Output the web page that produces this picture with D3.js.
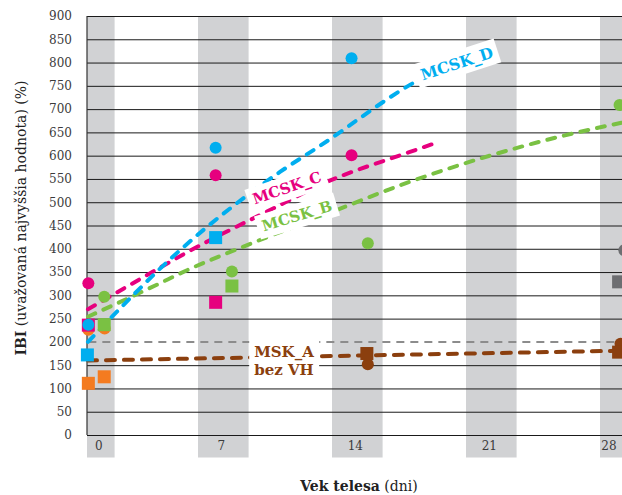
<!DOCTYPE html>
<html>
<head>
<meta charset="utf-8">
<script src="https://cdn.jsdelivr.net/npm/d3@7"></script>
<style>
  html, body { margin: 0; padding: 0; background: #fff; overflow: hidden; }
  svg { display: block; font-family: "DejaVu Serif", serif; }
</style>
</head>
<body>
<svg id="chart" width="622" height="495"></svg>
<script>
// --- data -------------------------------------------------------------
const dniTicks = [0, 7, 14, 21, 28];
const ibiTicks = d3.range(0, 901, 50);
const hranica = 200;

// MCSK_D (modrá)
const mcskDKruhDni = [-0.05, 6.6, 13.7];
const mcskDKruhIbi = [237, 617, 809];
const mcskDStvorecDni = [-0.1, 6.6];
const mcskDStvorecIbi = [172, 424];
const mcskDTrendDni = [-0.07, 4.74, 9.96, 12.05, 16.75, 17.3];
const mcskDTrendIbi = [200, 397, 565, 621, 752, 765];

// MCSK_C (purpurová)
const mcskCKruhDni = [-0.05, 6.6, 13.7];
const mcskCKruhIbi = [326, 558, 601];
const mcskCStvorecDni = [-0.05, 6.6];
const mcskCStvorecIbi = [236, 285];
const mcskCTrendDni = [-0.07, 3.33, 4.74, 9.96, 12.05, 16.75, 18.22];
const mcskCTrendIbi = [270, 351, 384, 494, 537, 608, 629];

// MCSK_B (zelená)
const mcskBKruhDni = [0.78, 7.45, 14.55, 27.7];
const mcskBKruhIbi = [297, 351, 412, 709];
const mcskBStvorecDni = [0.78, 7.45];
const mcskBStvorecIbi = [237, 320];
const mcskBTrendDni = [-0.07, 3.69, 4.74, 8.5, 12.05, 16.75, 24.59, 27.83];
const mcskBTrendIbi = [254, 326, 347, 412, 469, 544, 641, 671];

// oranžová
const oranzKruhDni = [-0.05, 0.8];
const oranzKruhIbi = [226, 229];
const oranzStvorecDni = [-0.05, 0.78];
const oranzStvorecIbi = [111, 125];

// MSK_A bez VH (hnedá)
const mskAKruhDni = [14.55, 27.75];
const mskAKruhIbi = [152, 196];
const mskAStvorecDni = [14.5, 27.65];
const mskAStvorecIbi = [175, 178];
const mskATrendDni = [-0.07, 27.83];
const mskATrendIbi = [160, 181];

// sivá
const sivaKruhDni = [27.95];
const sivaKruhIbi = [397];
const sivaStvorecDni = [27.65];
const sivaStvorecIbi = [329];

// --- layout -----------------------------------------------------------
const plotLeft = 87, plotRight = 622, plotTop = 16, plotBottom = 435;
const bandHalf = 25.3, bandBottom = 457.5;

const x = d3.scaleLinear().domain([0, 28]).range([89.3, 625.3]);
const y = d3.scaleLinear().domain([0, 900]).range([plotBottom, plotTop]);

const col = {
  D: "#00aeef", C: "#e6007e", B: "#7ac143",
  O: "#f47b20", A: "#8b3f0e", S: "#6d6e71"
};

const svg = d3.select("#chart");
const zip = (a, b) => a.map((v, i) => [v, b[i]]);

// vertical grey bands around each measured day
const bands = dniTicks.map(d => {
  const x0 = Math.max(plotLeft, x(d) - bandHalf);
  const x1 = Math.min(plotRight, x(d) + bandHalf);
  return { d, x0, x1 };
});
svg.append("g").selectAll("rect").data(bands).join("rect")
  .attr("x", b => b.x0).attr("y", plotTop)
  .attr("width", b => b.x1 - b.x0).attr("height", bandBottom - plotTop)
  .attr("fill", "#d1d2d4");

// y axis with full-width grid lines (the 200 % level gets its own dashed line)
const yAxis = svg.append("g")
  .attr("transform", `translate(${plotLeft},0)`)
  .call(d3.axisLeft(y).tickValues(ibiTicks).tickSize(-(plotRight - plotLeft)).tickPadding(15));
yAxis.select(".domain").remove();
yAxis.selectAll(".tick line")
  .attr("stroke", "#1a1a1a").attr("stroke-width", 1)
  .attr("display", d => d === hranica ? "none" : null);
yAxis.selectAll(".tick text")
  .attr("font-family", "DejaVu Serif").attr("font-size", 12).attr("fill", "#3b3b3b");

svg.append("line")
  .attr("x1", plotLeft).attr("x2", plotLeft).attr("y1", plotTop).attr("y2", plotBottom)
  .attr("stroke", "#333").attr("stroke-width", 1.2);

// x labels centred in the visible part of each band
svg.append("g").selectAll("text").data(bands).join("text")
  .attr("x", b => (b.x0 + b.x1) / 2 - 2).attr("y", 450)
  .attr("text-anchor", "middle").attr("font-size", 12).attr("fill", "#3b3b3b")
  .text(b => b.d);

// threshold line at 200 %
svg.append("line")
  .attr("x1", x(-0.05)).attr("x2", plotRight)
  .attr("y1", y(hranica)).attr("y2", y(hranica))
  .attr("stroke", "#8c8c8c").attr("stroke-width", 2).attr("stroke-dasharray", "8,6");

// trend lines
const line = d3.line().x(d => x(d[0])).y(d => y(d[1])).curve(d3.curveMonotoneX);
const trends = [
  { pts: zip(mskATrendDni, mskATrendIbi), c: col.A, dash: "9,9" },
  { pts: zip(mcskBTrendDni, mcskBTrendIbi), c: col.B, dash: "8,9" },
  { pts: zip(mcskCTrendDni, mcskCTrendIbi), c: col.C, dash: "8,9" },
  { pts: zip(mcskDTrendDni, mcskDTrendIbi), c: col.D, dash: "8,9" }
];
svg.append("g").selectAll("path").data(trends).join("path")
  .attr("d", t => line(t.pts))
  .attr("fill", "none").attr("stroke", t => t.c).attr("stroke-width", 4)
  .attr("stroke-linecap", "round").attr("stroke-dasharray", t => t.dash);

// series labels on white boxes
function label(lines, cx, cy, angle, color, size) {
  const g = svg.append("g").attr("transform", `translate(${cx},${cy}) rotate(${angle})`);
  const t = g.append("text")
    .attr("text-anchor", "middle").attr("font-weight", "bold")
    .attr("font-size", size).attr("fill", color);
  lines.forEach((s, i) => {
    t.append("tspan").attr("x", 0).attr("y", (i - (lines.length - 1) / 2) * 18 + 5).text(s);
  });
  const bb = t.node().getBBox();
  g.insert("rect", "text")
    .attr("x", bb.x - 5).attr("y", bb.y - 3)
    .attr("width", bb.width + 10).attr("height", bb.height + 6)
    .attr("fill", "#fff");
}
label(["MCSK_D"], 457, 64, -18, col.D, 15.5);
label(["MCSK_C"], 287, 188, -19, col.C, 15);
label(["MCSK_B"], 297, 216, -17, col.B, 15);
label(["MSK_A", "bez VH"], 284, 361, 0, col.A, 15);

// measured points
const sq = 13, r = 6;
function points(dni, ibi, c, shape) {
  const data = zip(dni, ibi);
  const g = svg.append("g");
  if (shape === "circle") {
    g.selectAll("circle").data(data).join("circle")
      .attr("cx", d => x(d[0])).attr("cy", d => y(d[1])).attr("r", r).attr("fill", c);
  } else {
    g.selectAll("rect").data(data).join("rect")
      .attr("x", d => x(d[0]) - sq / 2).attr("y", d => y(d[1]) - sq / 2)
      .attr("width", sq).attr("height", sq).attr("fill", c);
  }
}
points(oranzKruhDni, oranzKruhIbi, col.O, "circle");
points(oranzStvorecDni, oranzStvorecIbi, col.O, "square");
points(mcskCStvorecDni, mcskCStvorecIbi, col.C, "square");
points(mcskCKruhDni, mcskCKruhIbi, col.C, "circle");
points(mcskBStvorecDni, mcskBStvorecIbi, col.B, "square");
points(mcskBKruhDni, mcskBKruhIbi, col.B, "circle");
points(mcskDStvorecDni, mcskDStvorecIbi, col.D, "square");
points(mcskDKruhDni, mcskDKruhIbi, col.D, "circle");
points(mskAKruhDni, mskAKruhIbi, col.A, "circle");
points(mskAStvorecDni, mskAStvorecIbi, col.A, "square");
points(sivaKruhDni, sivaKruhIbi, col.S, "circle");
points(sivaStvorecDni, sivaStvorecIbi, col.S, "square");

// axis titles
const yt = svg.append("text")
  .attr("transform", "translate(26,218) rotate(-90)")
  .attr("text-anchor", "middle").attr("font-size", 14).attr("fill", "#222");
yt.append("tspan").attr("font-weight", "bold").text("IBI");
yt.append("tspan").text(" (uvažovaná najvyššia hodnota) (%)");

const xt = svg.append("text")
  .attr("x", 359).attr("y", 491)
  .attr("text-anchor", "middle").attr("font-size", 14).attr("fill", "#222");
xt.append("tspan").attr("font-weight", "bold").text("Vek telesa");
xt.append("tspan").text(" (dni)");
</script>
</body>
</html>
